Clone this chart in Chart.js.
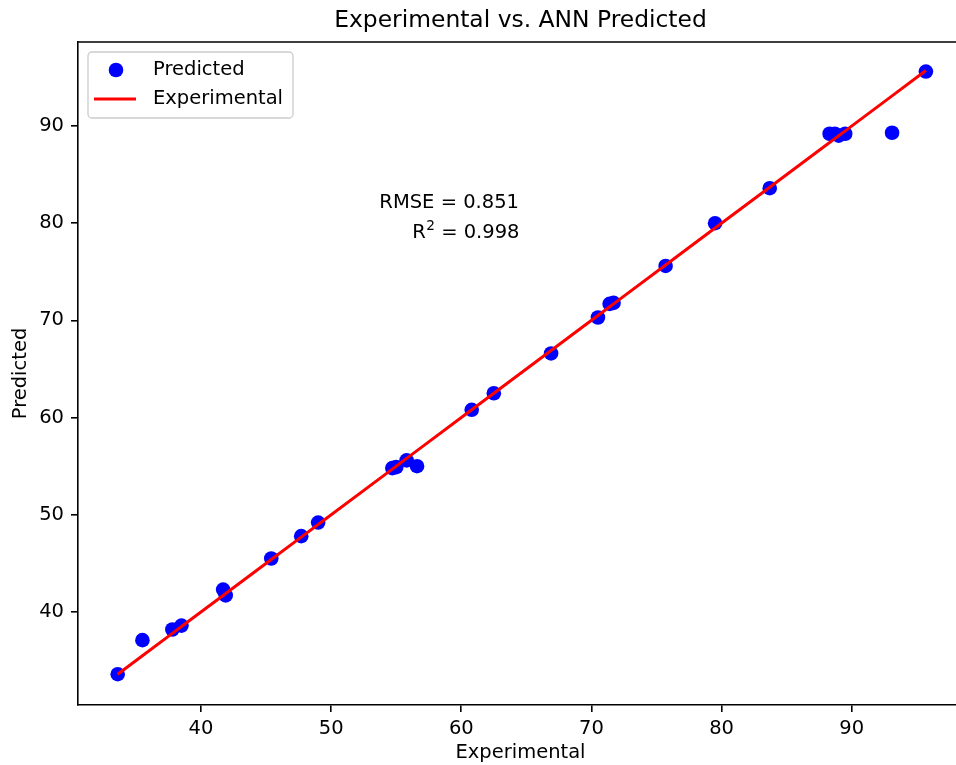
<!DOCTYPE html>
<html>
<head>
<meta charset="utf-8">
<script src="https://cdn.jsdelivr.net/npm/chart.js@4.4.1/dist/chart.umd.min.js"></script>
<style>
  html, body { margin: 0; padding: 0; background: #fff; overflow: hidden; }
  #wrap { width: 980px; height: 765px; }
</style>
</head>
<body>
<div id="wrap"><canvas id="c" width="980" height="765"></canvas></div>
<script>
// ---- Data ----
const experimental = [33.6, 35.5, 37.8, 38.5, 41.7, 41.9, 45.4, 47.7, 49.0, 54.7, 55.0, 55.8, 56.6, 60.8, 62.5, 66.9, 70.5, 71.4, 71.7, 75.7, 79.5, 83.7, 88.3, 88.7, 89.0, 89.5, 93.1, 95.7];
const predicted    = [33.6, 37.1, 38.2, 38.6, 42.3, 41.7, 45.5, 47.8, 49.2, 54.8, 54.9, 55.6, 55.0, 60.8, 62.5, 66.6, 70.3, 71.7, 71.8, 75.6, 80.0, 83.6, 89.2, 89.2, 89.0, 89.2, 89.3, 95.6];
const xTicks = [40, 50, 60, 70, 80, 90];
const yTicks = [40, 50, 60, 70, 80, 90];
const seriesNames = ['Predicted', 'Experimental'];
const titleText = 'Experimental vs. ANN Predicted';
const xTitle = 'Experimental';
const yTitle = 'Predicted';
const rmseText = 'RMSE = 0.851';
const r2Base = 'R';
const r2Sup = '2';
const r2Rest = ' = 0.998';

const FONT = "'DejaVu Sans', 'Liberation Sans', sans-serif";
const FS = 19.5;

const scatterPts = experimental.map((x, i) => ({x: x, y: predicted[i]}));
const sortedExp = experimental.slice().sort((a, b) => a - b);
const linePts = sortedExp.map(v => ({x: v, y: v}));

const framePlugin = {
  id: 'frame',
  afterDraw(chart) {
    const ctx = chart.ctx, a = chart.chartArea;
    ctx.save();
    // top spine
    ctx.strokeStyle = '#000';
    ctx.lineWidth = 1.6;
    ctx.beginPath();
    ctx.moveTo(a.left, a.top);
    ctx.lineTo(a.right, a.top);
    ctx.stroke();
    // title
    ctx.fillStyle = '#000';
    ctx.font = (FS * 1.2) + 'px ' + FONT;
    ctx.textAlign = 'center';
    ctx.textBaseline = 'middle';
    ctx.fillText(titleText, (a.left + a.right) / 2, 21);
    // annotation text (right aligned at x=519)
    ctx.font = FS + 'px ' + FONT;
    ctx.textAlign = 'right';
    ctx.fillText(rmseText, 519, 203);
    ctx.textAlign = 'left';
    const wRest = ctx.measureText(r2Rest).width;
    const wR = ctx.measureText(r2Base).width;
    ctx.font = (FS * 0.7) + 'px ' + FONT;
    const wSup = ctx.measureText(r2Sup).width;
    let x0 = 519 - wRest - wSup - wR;
    ctx.font = FS + 'px ' + FONT;
    ctx.fillText(r2Base, x0, 233);
    ctx.font = (FS * 0.7) + 'px ' + FONT;
    ctx.fillText(r2Sup, x0 + wR + 0.5, 226);
    ctx.font = FS + 'px ' + FONT;
    ctx.fillText(r2Rest, x0 + wR + wSup + 0.5, 233);
    // legend box
    const bx = 88, by = 52, bw = 205, bh = 66, r = 4;
    ctx.beginPath();
    ctx.moveTo(bx + r, by);
    ctx.arcTo(bx + bw, by, bx + bw, by + bh, r);
    ctx.arcTo(bx + bw, by + bh, bx, by + bh, r);
    ctx.arcTo(bx, by + bh, bx, by, r);
    ctx.arcTo(bx, by, bx + bw, by, r);
    ctx.closePath();
    ctx.fillStyle = 'rgba(255,255,255,0.8)';
    ctx.fill();
    ctx.strokeStyle = '#cccccc';
    ctx.lineWidth = 1.3;
    ctx.stroke();
    const ds = chart.data.datasets;
    ctx.fillStyle = ds[0].backgroundColor;
    ctx.beginPath();
    ctx.arc(116, 70, 7.3, 0, Math.PI * 2);
    ctx.fill();
    ctx.strokeStyle = ds[1].borderColor;
    ctx.lineWidth = 3;
    ctx.beginPath();
    ctx.moveTo(94, 99);
    ctx.lineTo(136, 99);
    ctx.stroke();
    ctx.fillStyle = '#000';
    ctx.textAlign = 'left';
    ctx.fillText(ds[0].label, 153, 70);
    ctx.fillText(ds[1].label, 153, 99);
    ctx.restore();
  }
};

new Chart(document.getElementById('c'), {
  type: 'scatter',
  data: {
    datasets: [
      {
        label: seriesNames[0],
        data: scatterPts,
        backgroundColor: '#0000ff',
        borderColor: '#0000ff',
        pointRadius: 7.3,
        pointHoverRadius: 7.3,
        borderWidth: 0,
        order: 1
      },
      {
        label: seriesNames[1],
        type: 'line',
        data: linePts,
        borderColor: '#ff0000',
        backgroundColor: '#ff0000',
        borderWidth: 3,
        pointRadius: 0,
        showLine: true,
        fill: false,
        tension: 0,
        order: 0
      }
    ]
  },
  options: {
    responsive: false,
    animation: false,
    layout: { padding: { top: 42, right: 17, left: 0, bottom: 0 } },
    plugins: {
      legend: { display: false },
      title: { display: false },
      tooltip: { enabled: false }
    },
    scales: {
      x: {
        type: 'linear',
        min: 30.55,
        max: 98.55,
        afterBuildTicks(s) { s.ticks = xTicks.map(v => ({value: v})); },
        afterFit(s) { s.height = 60; },
        grid: { drawOnChartArea: false, drawTicks: true, tickLength: 7, color: '#000', lineWidth: 1.6 },
        border: { display: true, color: '#000', width: 1.6 },
        ticks: { color: '#000', font: { family: FONT, size: FS }, padding: 5, maxRotation: 0, autoSkip: false },
        title: { display: true, text: xTitle, color: '#000', font: { family: FONT, size: FS }, padding: { top: 0, bottom: 0 } }
      },
      y: {
        type: 'linear',
        min: 30.43,
        max: 98.64,
        afterBuildTicks(s) { s.ticks = yTicks.map(v => ({value: v})); },
        afterFit(s) { s.width = 78; },
        grid: { drawOnChartArea: false, drawTicks: true, tickLength: 7, color: '#000', lineWidth: 1.6 },
        border: { display: true, color: '#000', width: 1.6 },
        ticks: { color: '#000', font: { family: FONT, size: FS }, padding: 7, autoSkip: false },
        title: { display: true, text: yTitle, color: '#000', font: { family: FONT, size: FS }, padding: { top: 9, bottom: 0 } }
      }
    }
  },
  plugins: [framePlugin]
});
</script>
</body>
</html>
